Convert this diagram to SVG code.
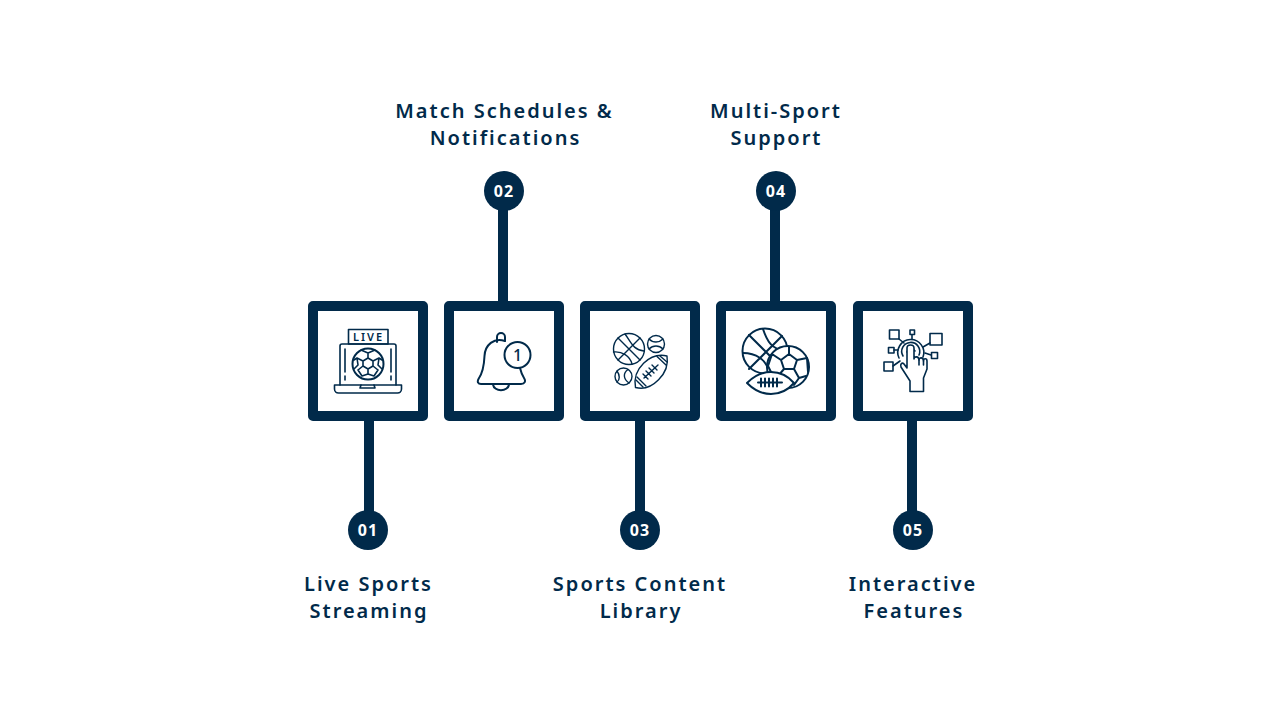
<svg xmlns="http://www.w3.org/2000/svg" width="1280" height="720" viewBox="0 0 1280 720">
<style>
.box{fill:#fff;stroke:#012a4a;stroke-width:10;stroke-linejoin:round}
.bar{stroke:#012a4a;stroke-width:10;fill:none}
.dot{fill:#012a4a}
.num{font:700 16px "Noto Sans",sans-serif;letter-spacing:1.2px;fill:#fff;text-anchor:middle}
.lab{font:600 20px "Noto Sans",sans-serif;letter-spacing:2px;fill:#012a4a;text-anchor:middle}
.ic{fill:none;stroke:#012a4a;stroke-width:1.6;stroke-linejoin:round;stroke-linecap:round}
.icf{fill:#fff;stroke:#012a4a;stroke-width:1.6;stroke-linejoin:round;stroke-linecap:round}
.ic2{fill:none;stroke:#012a4a;stroke-width:2;stroke-linejoin:round;stroke-linecap:round}
.ic2f{fill:#fff;stroke:#012a4a;stroke-width:2;stroke-linejoin:round;stroke-linecap:round}
.ic3{fill:none;stroke:#012a4a;stroke-width:1.4;stroke-linejoin:round;stroke-linecap:round}
</style>
<rect width="1280" height="720" fill="#fff"/>
<g id="connectors">
<path class="bar" d="M369 421V530"/>
<path class="bar" d="M503 191V301"/>
<path class="bar" d="M640 421V530"/>
<path class="bar" d="M775 191V301"/>
<path class="bar" d="M912 421V530"/>
</g>
<g id="node-01">
<rect class="box" x="313" y="306" width="110" height="110"/>
<circle class="dot" cx="368" cy="530" r="20"/>
<text class="num" x="368" y="536">01</text>
<text class="lab" x="368.500" y="591">Live Sports</text>
<text class="lab" x="369" y="618">Streaming</text>
<g>
<rect class="ic" x="348.500" y="329.500" width="39.500" height="14.500"/>
<text x="368.500" y="341" font-family="Noto Sans, sans-serif" font-size="11" font-weight="600" letter-spacing="2" fill="#012a4a" text-anchor="middle">LIVE</text>
<path class="ic" d="M340 385V346a2 2 0 0 1 2-2h52a2 2 0 0 1 2 2v39"/>
<path class="ic" d="M345 349V372M345 376V380M391 349V372M391 376V380"/>
<path class="ic" d="M334.500 385H401.500V389a4 4 0 0 1-4 4H338.500a4 4 0 0 1-4-4Z"/>
<path class="ic" d="M361 385l-1 3h15l-1-3"/>
<circle class="ic2" cx="368" cy="364" r="15.500"/>
<path class="ic" d="M368 358l5 3v5l-5 3-5-3v-5zM363 361l-6-3M373 361l6-3M363 366l-5 4M373 366l5 4M368 369v5M361 350l7 3 7-3M368 353v5M354 360l3-2 1 7-4 4M382 360l-3-2-1 7 4 4M358 370l4 6 6-2 6 2 4-6"/>
</g>
</g>
<g id="node-02">
<rect class="box" x="449" y="306" width="110" height="110"/>
<circle class="dot" cx="504" cy="191" r="20"/>
<text class="num" x="504" y="197">02</text>
<text class="lab" x="504.500" y="118">Match Schedules &amp;</text>
<text class="lab" x="505.500" y="145">Notifications</text>
<g>
<path class="ic2" d="M497 342V337a4 4 0 0 1 8 0v4"/>
<path class="ic2" d="M505 341C494 337 485 345 484.500 356C484 368 482 374 478.500 379C477 382 478 384 481 384H521C525 384 526 381 524 378C522 375 521 372 520 368"/>
<path class="ic2" d="M493 384.500C494 392 508 392 509 384.500"/>
<circle class="ic2f" cx="517.500" cy="355" r="13"/>
<text x="517.500" y="361" font-family="Noto Sans, sans-serif" font-size="16" font-weight="500" fill="#012a4a" text-anchor="middle">1</text>
</g>
</g>
<g id="node-03">
<rect class="box" x="585" y="306" width="110" height="110"/>
<circle class="dot" cx="640" cy="530" r="20"/>
<text class="num" x="640" y="536">03</text>
<text class="lab" x="640" y="591">Sports Content</text>
<text class="lab" x="641" y="618">Library</text>
<g>
<circle class="ic3" cx="629" cy="349" r="15.500"/>
<path class="ic3" d="M618 338L640 360M640 338L618 360M625 334C631 342 633 350 644 351M613.500 352C622 351 630 356 632 364"/>
<circle class="ic3" cx="656" cy="344" r="8.500"/>
<path class="ic3" d="M649 339C653 343 659 343 663 339M649 349C653 345 659 345 663 349"/>
<circle class="ic3" cx="623.500" cy="376.500" r="8.500"/>
<path class="ic3" d="M628 369.500C623 373 623 379 629 383M617 371C620 375 620 380 617 382"/>
<path class="ic3" d="M635.500 387.500C632 369 650 352 667 356C670 373 652 392 635.500 387.500Z"/>
<path class="ic3" d="M644 378L658 365M646 371l5 5M649 368l5 5M652 365l5 5M643 374l5 5M636 380L643 387M637 377L646 386M657 356.500L666 365M660 356L667 362"/>
</g>
</g>
<g id="node-04">
<rect class="box" x="721" y="306" width="110" height="110"/>
<circle class="dot" cx="776" cy="191" r="20"/>
<text class="num" x="776" y="197">04</text>
<text class="lab" x="776" y="118">Multi-Sport</text>
<text class="lab" x="776.500" y="145">Support</text>
<g>
<circle class="ic2" cx="765" cy="351" r="22.500"/>
<path class="ic2" d="M749 335L781 367M782 336L749 369M763 329C767 341 771 349 787 352M743 353C755 353 767 359 769 373"/>
<circle class="ic2f" cx="788" cy="367" r="21"/>
<path class="ic2" d="M781 360L789 354 797 360 794 369H784ZM781 360L772 354M789 354V347M797 360L807 358M794 369L799 378M784 369L778 376M772 354L768 366 771 372 778 376 778 384M799 378L806 376M799 378L794 385M807 358L808 372"/>
<path class="ic2f" d="M747 383C755 375 763 372 771 372C780 372 788 376 794 383C788 390 780 394 771 394C763 394 755 391 747 383Z"/>
<path class="ic2" d="M758 382.500H782M761 378.500v8M765 378.500v8M769 378.500v8M773 378.500v8M777 378.500v8"/>
</g>
</g>
<g id="node-05">
<rect class="box" x="858" y="306" width="110" height="110"/>
<circle class="dot" cx="913" cy="530" r="20"/>
<text class="num" x="913" y="536">05</text>
<text class="lab" x="913" y="591">Interactive</text>
<text class="lab" x="914" y="618">Features</text>
<g>
<rect class="ic" x="889.500" y="330" width="9.500" height="9"/>
<rect class="ic" x="910" y="330" width="4.500" height="4.500"/>
<rect class="ic" x="930" y="333.500" width="12" height="11.500"/>
<rect class="ic" x="888.500" y="347.500" width="5.500" height="5.500"/>
<rect class="ic" x="931.500" y="352.500" width="6" height="6"/>
<rect class="ic" x="884" y="362" width="9" height="9"/>
<path class="ic" d="M899 339L904 343M912 334.500V339M930 343L923 347M894 350H898M931 355L925 353M893 366L900 361"/>
<path class="ic" d="M899 358A13 13 0 1 1 923 357M903 356A9 9 0 1 1 919 355M907 352A4.500 4.500 0 0 1 915 351"/>
<path class="icf" d="M910 391.500H923.500V378L927 369V361C927 358 923.500 358 923.500 361C923.500 357 919 357 919 360C919 356 914 356 914 359V348C914 344 907 344 907 348V368L904 364C902 362 900 364 901 367L910 381Z"/>
<path class="ic" d="M919 360V365M923.500 361V365"/>
</g>
</g>
</svg>
